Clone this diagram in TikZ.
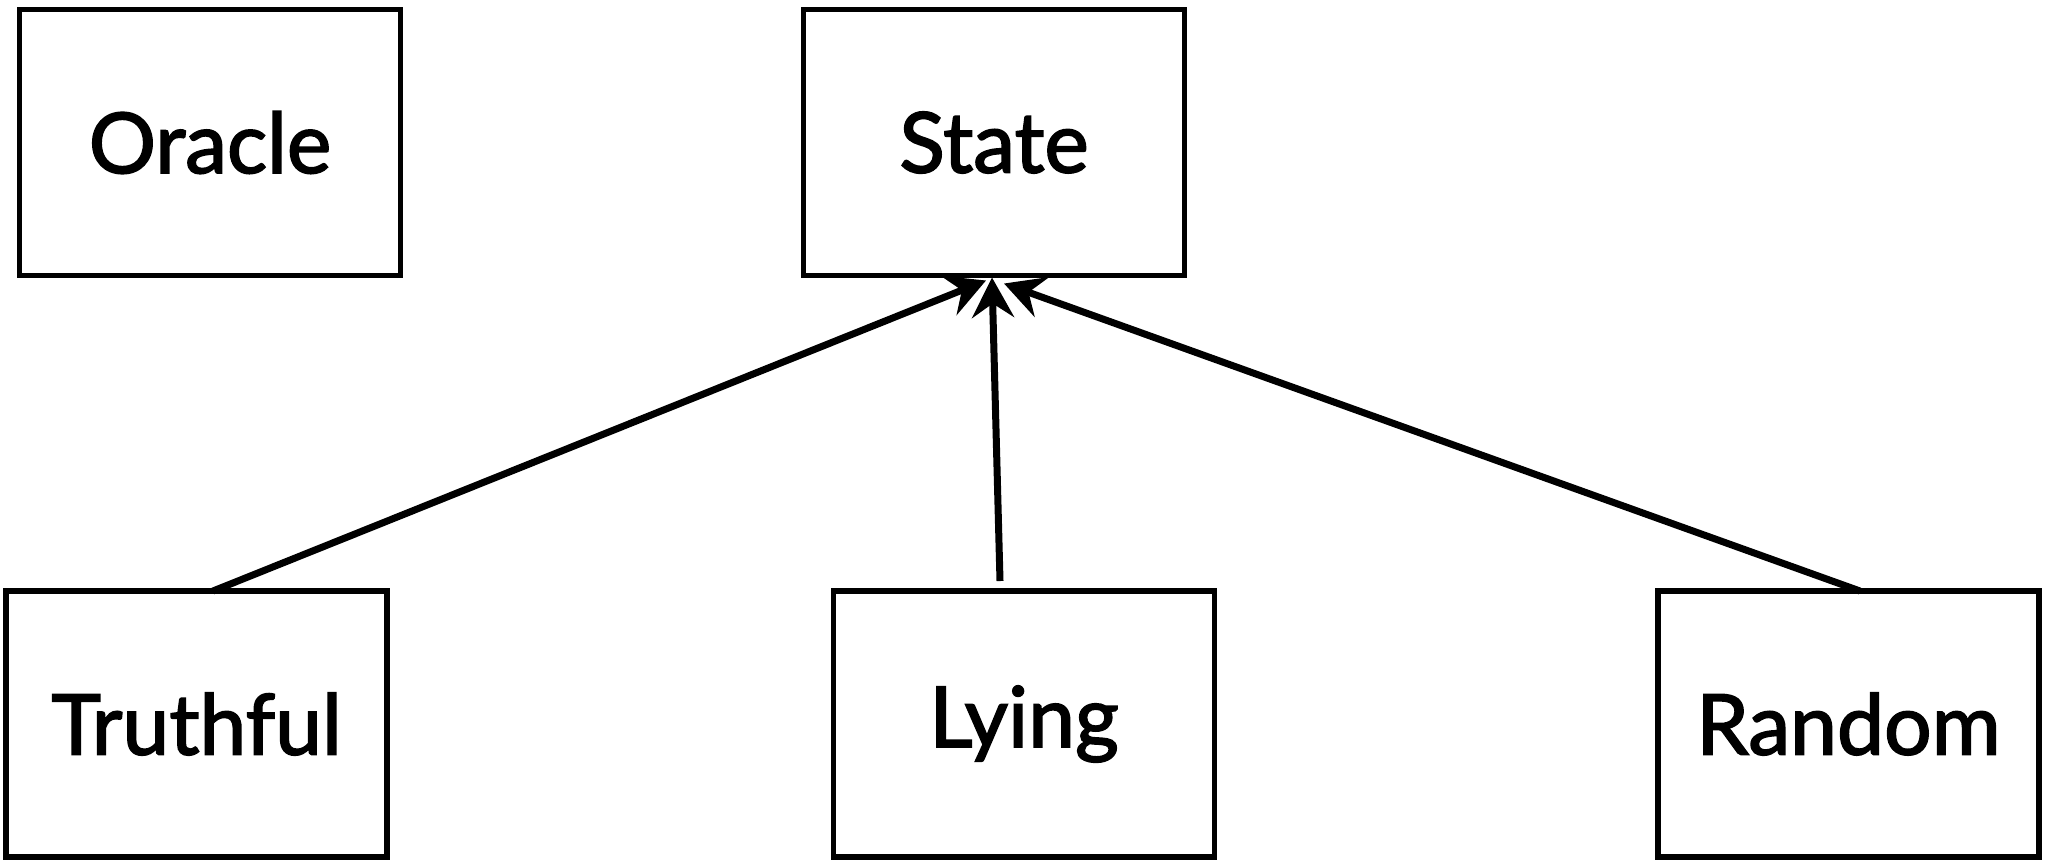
\documentclass[tikz,border=0pt]{standalone}
\usepackage{fontspec}
\newfontfamily\labelfont{Lato}[FakeBold=2]
\usetikzlibrary{arrows.meta,calc}
\begin{document}
\begin{tikzpicture}[x=0.5pt,y=-0.5pt,
  box/.style={draw=black,line width=2.75pt,minimum width=190.5pt,minimum height=133pt,
    inner sep=0pt,outer sep=0pt,font=\labelfont\fontsize{42}{48}\selectfont},
  arr/.style={line width=3.5pt,-{Stealth[length=20pt,width=21pt,inset=7pt]}}]
\useasboundingbox (0,0) rectangle (2050,859);
\node[box] (oracle) at (210,142.5) {Oracle};
\node[box] (state) at (994,142.5) {State};
\node[box] (truthful) at (196.5,724) {Truthful};
\node[box] (lying) at (1024,724) {Lying};
\node[box] (random) at (1848.5,724) {Random};
\draw[arr] ($(truthful.north)+(16.5,0)$) -- ($(state.south)+(-8,5)$);
\draw[arr] ($(lying.north)+(-24,-10)$) -- ($(state.south)+(-2,2)$);
\draw[arr] ($(random.north)+(11.5,0)$) -- ($(state.south)+(10,8)$);
\end{tikzpicture}
\end{document}
